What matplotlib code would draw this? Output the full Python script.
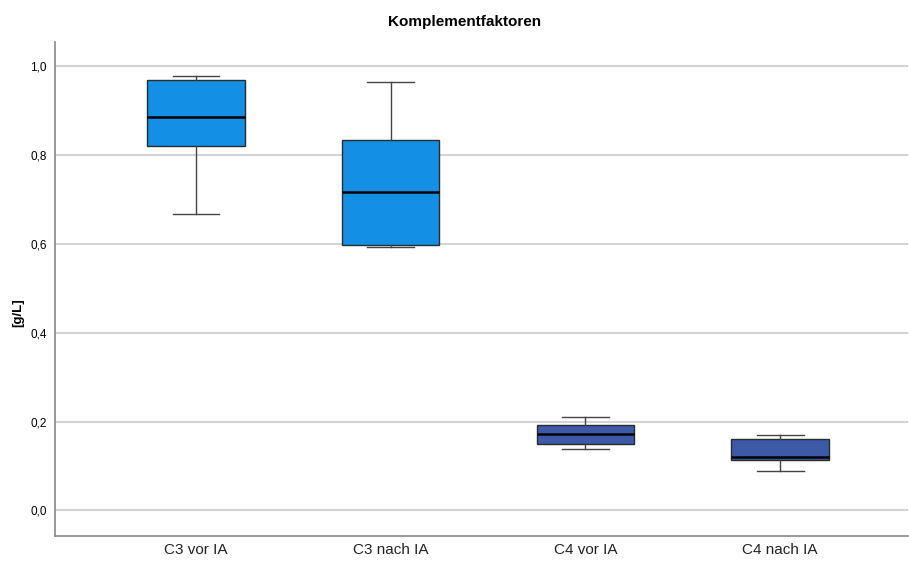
import matplotlib
matplotlib.use("Agg")
import matplotlib.pyplot as plt

plt.rcParams['font.family'] = ['Liberation Sans', 'DejaVu Sans']

# Five-number summaries per group (g/L)
categories = ["C3 vor IA", "C3 nach IA", "C4 vor IA", "C4 nach IA"]
whisker_low = [0.668, 0.592, 0.138, 0.088]
q1 = [0.821, 0.597, 0.149, 0.113]
median = [0.886, 0.716, 0.173, 0.120]
q3 = [0.969, 0.833, 0.192, 0.160]
whisker_high = [0.978, 0.965, 0.2105, 0.170]
box_colors = ["#138fe6", "#138fe6", "#3d5aa9", "#3d5aa9"]

y_ticks = [0.0, 0.2, 0.4, 0.6, 0.8, 1.0]
y_tick_labels = ["0,0", "0,2", "0,4", "0,6", "0,8", "1,0"]

stats = []
for i, name in enumerate(categories):
    stats.append({
        "label": name,
        "whislo": whisker_low[i],
        "q1": q1[i],
        "med": median[i],
        "q3": q3[i],
        "whishi": whisker_high[i],
        "fliers": [],
    })

fig = plt.figure(figsize=(9.09, 5.61), dpi=100)
ax = fig.add_axes([0.0608, 0.0451, 0.9382, 0.8806])

positions = list(range(len(categories)))
bp = ax.bxp(stats, positions=positions, widths=0.5, patch_artist=True,
            showfliers=False,
            boxprops=dict(edgecolor="#2b2b2b", linewidth=1.0),
            medianprops=dict(color="black", linewidth=1.8),
            whiskerprops=dict(color="#444444", linewidth=1.0),
            capprops=dict(color="#444444", linewidth=1.0),
            capwidths=0.24)
for patch, c in zip(bp["boxes"], box_colors):
    patch.set_facecolor(c)

ax.set_xlim(-0.723, 3.657)
ax.set_ylim(-0.057, 1.055)
ax.set_yticks(y_ticks)
ax.set_yticklabels(y_tick_labels, fontsize=8.5)
ax.set_xticks(positions)
ax.set_xticklabels(categories, fontsize=11, color="#222222")
ax.tick_params(axis="both", length=0)
ax.tick_params(axis="y", pad=6)
ax.tick_params(axis="x", pad=5)

ax.yaxis.grid(True, color="#d4d4d4", linewidth=1.5)
ax.set_axisbelow(True)
for side in ["top", "right"]:
    ax.spines[side].set_visible(False)
for side in ["left", "bottom"]:
    ax.spines[side].set_color("#888888")
    ax.spines[side].set_linewidth(1.2)

# axis label and title placed in figure coordinates
fig.text(18 / 909, 1 - 313 / 561, "[g/L]", fontsize=9.5, fontweight="bold",
         rotation=90, ha="center", va="center")
fig.text(465 / 909, 1 - 22 / 561, "Komplementfaktoren", fontsize=11,
         fontweight="bold", ha="center", va="center")

fig.savefig("out.png", dpi=100)
